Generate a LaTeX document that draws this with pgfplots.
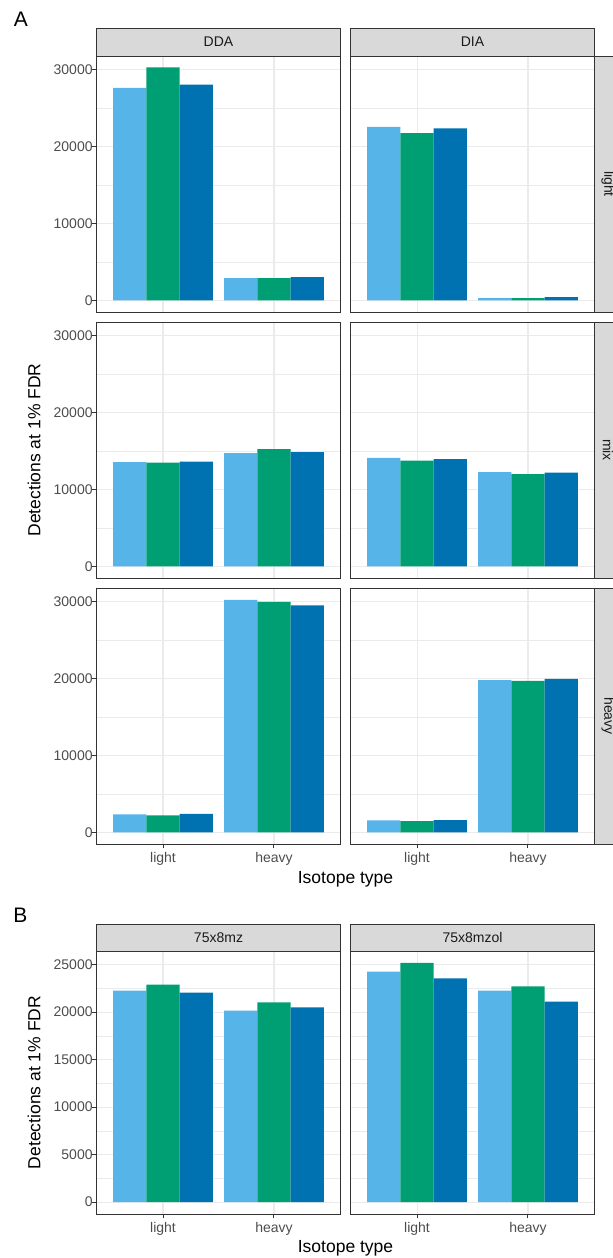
\documentclass[border=0pt]{standalone}
\usepackage{fontspec}
\setmainfont{Liberation Sans}
\usepackage{pgfplots}
\pgfplotsset{compat=1.18}
\usepackage{pgfplotstable}
\definecolor{cA}{HTML}{56B4E9}
\definecolor{cB}{HTML}{009E73}
\definecolor{cC}{HTML}{0072B2}
\definecolor{g10}{HTML}{1A1A1A}
\definecolor{g20}{HTML}{333333}
\definecolor{g30}{HTML}{4D4D4D}
\definecolor{g85}{HTML}{D9D9D9}
\definecolor{g92}{HTML}{EBEBEB}

% columns: x position (1 = light, 2 = heavy), three series
\pgfplotstableread{
x lb gr db
1 27662 30346 28095
2 2900 2900 3030
}\tAa
\pgfplotstableread{
x lb gr db
1 22597 21775 22381
2 300 300 430
}\tAb
\pgfplotstableread{
x lb gr db
1 13565 13522 13652
2 14739 15261 14870
}\tBa
\pgfplotstableread{
x lb gr db
1 14130 13783 13957
2 12261 12000 12217
}\tBb
\pgfplotstableread{
x lb gr db
1 2338 2208 2424
2 30260 30000 29567
}\tCa
\pgfplotstableread{
x lb gr db
1 1558 1472 1602
2 19827 19740 20000
}\tCb
\pgfplotstableread{
x lb gr db
1 22257 22890 22046
2 20148 21027 20499
}\tDa
\pgfplotstableread{
x lb gr db
1 24262 25176 23558
2 22257 22714 21097
}\tDb

\pgfplotsset{
  facet/.style={
    scale only axis, width=244bp, height=256bp,
    xmin=0.4, xmax=2.6, ymin=-1515, ymax=31815,
    xtick={1,2}, xticklabels={light,heavy},
    ytick={0,10000,20000,30000}, minor ytick={5000,15000,25000},
    xmajorgrids, ymajorgrids, yminorgrids,
    major grid style={draw=g92, line width=1.1bp},
    minor grid style={draw=g92, line width=0.6bp},
    axis line style={draw=g20, line width=1bp},
    tick align=outside, major tick length=4.4bp, minor tick length=0pt,
    every tick/.style={draw=g20, line width=1bp},
    xtick pos=bottom, ytick pos=left,
    tick label style={font=\fontsize{14bp}{16bp}\selectfont, text=g30},
    yticklabel style={xshift=4bp},
    /pgf/number format/assume math mode=true,
    /pgf/number format/fixed,
    /pgf/number format/set thousands separator={},
    scaled y ticks=false,
    ybar=0pt, bar width=33.27bp,
  },
  noxt/.style={xticklabels={}, xtick style={draw=none}},
  noyt/.style={yticklabels={}, ytick style={draw=none}},
}

\newcommand{\bars}[1]{%
  \addplot[fill=cA, draw=none] table[x=x, y=lb] {#1};
  \addplot[fill=cB, draw=none] table[x=x, y=gr] {#1};
  \addplot[fill=cC, draw=none] table[x=x, y=db] {#1};
}

\begin{document}
\begin{tikzpicture}
\useasboundingbox (0,0) rectangle (613bp,-1258bp);

% Row 1
\begin{axis}[facet, noxt, at={(96.5bp,-312bp)}, anchor=south west]
\bars{\tAa}
\end{axis}
\begin{axis}[facet, noxt, noyt, at={(350.5bp,-312bp)}, anchor=south west]
\bars{\tAb}
\end{axis}
% Row 2
\begin{axis}[facet, noxt, at={(96.5bp,-578bp)}, anchor=south west]
\bars{\tBa}
\end{axis}
\begin{axis}[facet, noxt, noyt, at={(350.5bp,-578bp)}, anchor=south west]
\bars{\tBb}
\end{axis}
% Row 3
\begin{axis}[facet, at={(96.5bp,-844bp)}, anchor=south west]
\bars{\tCa}
\end{axis}
\begin{axis}[facet, noyt, at={(350.5bp,-844bp)}, anchor=south west]
\bars{\tCb}
\end{axis}
% Panel B
\begin{axis}[facet, height=263bp, ymin=-1259, ymax=26435,
  ytick={0,5000,10000,15000,20000,25000},
  minor ytick={2500,7500,12500,17500,22500},
  at={(96.5bp,-1214bp)}, anchor=south west]
\bars{\tDa}
\end{axis}
\begin{axis}[facet, noyt, height=263bp, ymin=-1259, ymax=26435,
  ytick={0,5000,10000,15000,20000,25000},
  minor ytick={2500,7500,12500,17500,22500},
  at={(350.5bp,-1214bp)}, anchor=south west]
\bars{\tDb}
\end{axis}

% strips
\tikzset{strip/.style={fill=g85, draw=g20, line width=1bp},
         stript/.style={font=\fontsize{14bp}{16bp}\selectfont, text=g10}}
\draw[strip] (96.5bp,-28.3bp) rectangle (340.5bp,-56bp);
\node[stript] at (218.5bp,-42bp) {DDA};
\draw[strip] (350.5bp,-28.3bp) rectangle (594.5bp,-56bp);
\node[stript] at (472.5bp,-42bp) {DIA};
\draw[strip] (594.5bp,-56bp) rectangle (622bp,-312bp);
\node[stript, rotate=-90] at (608bp,-184bp) {light};
\draw[strip] (594.5bp,-322bp) rectangle (622bp,-578bp);
\node[stript, rotate=-90] at (608bp,-450bp) {mix};
\draw[strip] (594.5bp,-588bp) rectangle (622bp,-844bp);
\node[stript, rotate=-90] at (608bp,-716bp) {heavy};
\draw[strip] (96.5bp,-924bp) rectangle (340.5bp,-951bp);
\node[stript] at (218.5bp,-937.5bp) {75x8mz};
\draw[strip] (350.5bp,-924bp) rectangle (594.5bp,-951bp);
\node[stript] at (472.5bp,-937.5bp) {75x8mzol};

% titles
\tikzset{ttl/.style={font=\fontsize{17.5bp}{20bp}\selectfont, text=black}}
\node[ttl, rotate=90] at (34bp,-450bp) {Detections at 1\% FDR};
\node[ttl, rotate=90] at (34bp,-1082.5bp) {Detections at 1\% FDR};
\node[ttl] at (345.5bp,-879bp) {Isotope type};
\node[ttl] at (345.5bp,-1248bp) {Isotope type};
\node[font=\fontsize{21bp}{24bp}\selectfont] at (21bp,-19bp) {A};
\node[font=\fontsize{21bp}{24bp}\selectfont] at (20.5bp,-915bp) {B};
\end{tikzpicture}
\end{document}
